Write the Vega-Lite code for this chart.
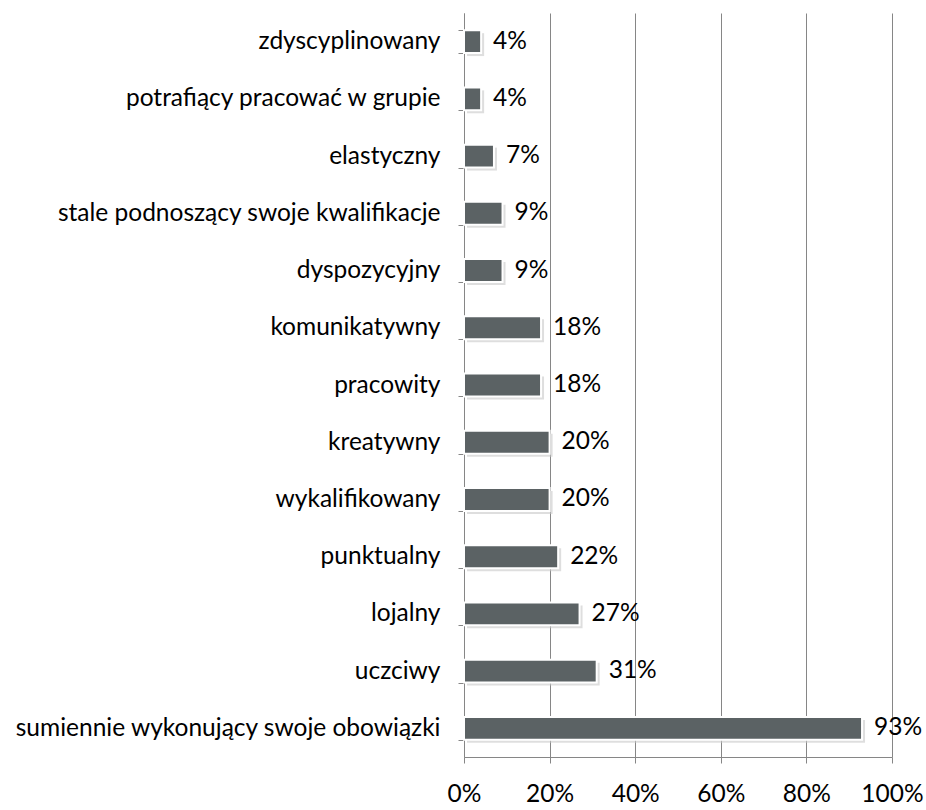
{
  "$schema": "https://vega.github.io/schema/vega-lite/v6.json",
  "autosize": "none",
  "width": 428,
  "height": 744,
  "padding": {"left": 464, "top": 13, "right": 34, "bottom": 53},
  "background": "white",
  "config": {
    "view": {"stroke": null},
    "font": "Lato"
  },
  "data": {
    "values": [
      {"cecha": "zdyscyplinowany", "v": 0.04, "label": "4%"},
      {"cecha": "potrafiący pracować w grupie", "v": 0.04, "label": "4%"},
      {"cecha": "elastyczny", "v": 0.07, "label": "7%"},
      {"cecha": "stale podnoszący swoje kwalifikacje", "v": 0.09, "label": "9%"},
      {"cecha": "dyspozycyjny", "v": 0.09, "label": "9%"},
      {"cecha": "komunikatywny ", "v": 0.18, "label": "18%"},
      {"cecha": "pracowity", "v": 0.18, "label": "18%"},
      {"cecha": "kreatywny", "v": 0.20, "label": "20%"},
      {"cecha": "wykalifikowany", "v": 0.20, "label": "20%"},
      {"cecha": "punktualny", "v": 0.22, "label": "22%"},
      {"cecha": "lojalny", "v": 0.27, "label": "27%"},
      {"cecha": "uczciwy", "v": 0.31, "label": "31%"},
      {"cecha": "sumiennie wykonujący swoje obowiązki", "v": 0.93, "label": "93%"}
    ]
  },
  "encoding": {
    "y": {
      "field": "cecha",
      "type": "nominal",
      "sort": null,
      "scale": {"paddingInner": 0.6, "paddingOuter": 0.3},
      "axis": {
        "title": null,
        "domainColor": "#868686",
        "tickColor": "#868686",
        "tickBand": "extent",
        "tickSize": 6,
        "labelFont": "Lato",
        "labelFontSize": 24.5,
        "labelColor": "#000000",
        "labelPadding": 18,
        "labelLimit": 500,
        "labelOverlap": false,
        "grid": false
      }
    }
  },
  "layer": [
    {
      "mark": {"type": "bar", "color": "#c8c8c8", "xOffset": 3, "yOffset": 3, "opacity": 0.6},
      "encoding": {
        "x": {"field": "v", "type": "quantitative"}
      }
    },
    {
      "mark": {"type": "bar", "color": "#5b6264", "stroke": "white", "strokeWidth": 2},
      "encoding": {
        "x": {
          "field": "v",
          "type": "quantitative",
          "scale": {"domain": [0, 1], "nice": false},
          "axis": {
            "title": null,
            "format": ".0%",
            "values": [0, 0.2, 0.4, 0.6, 0.8, 1],
            "grid": true,
            "gridColor": "#868686",
            "gridWidth": 1,
            "domainColor": "#868686",
            "tickColor": "#868686",
            "tickSize": 6,
            "labelFont": "Lato",
            "labelFontSize": 24.5,
            "labelColor": "#000000",
            "labelPadding": 19,
            "labelOverlap": false,
            "labelFlush": false
          }
        }
      }
    },
    {
      "mark": {"type": "text", "align": "left", "dx": 12, "font": "Lato", "fontSize": 24.5, "color": "#000000"},
      "encoding": {
        "x": {"field": "v", "type": "quantitative"},
        "text": {"field": "label"}
      }
    }
  ]
}
